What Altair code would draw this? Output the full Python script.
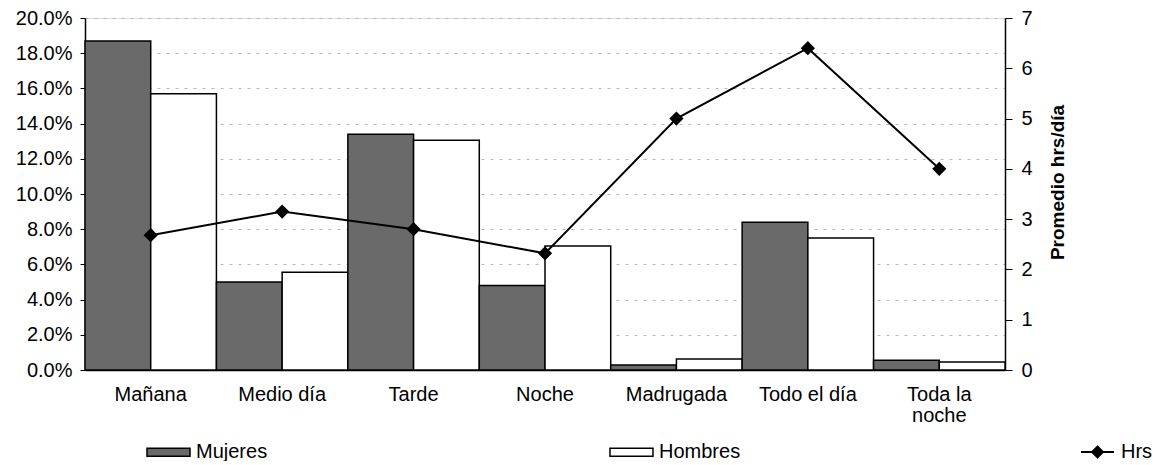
import altair as alt
import pandas as pd

periodos = ["Mañana", "Medio día", "Tarde", "Noche", "Madrugada", "Todo el día", "Toda la noche"]
mujeres = [18.7, 5.0, 13.4, 4.8, 0.28, 8.4, 0.55]
hombres = [15.7, 5.55, 13.05, 7.05, 0.62, 7.5, 0.45]
hrs = [2.68, 3.15, 2.8, 2.32, 5.0, 6.4, 4.0]
sexos = ["Mujeres", "Hombres"]
left_ticks = [0, 0.02, 0.04, 0.06, 0.08, 0.10, 0.12, 0.14, 0.16, 0.18, 0.20]
right_ticks = [0, 1, 2, 3, 4, 5, 6, 7]

rows = []
for p, m, h in zip(periodos, mujeres, hombres):
    rows.append({"Periodo": p, "Sexo": "Mujeres", "Valor": m / 100})
    rows.append({"Periodo": p, "Sexo": "Hombres", "Valor": h / 100})
bars_df = pd.DataFrame(rows)
line_df = pd.DataFrame({"Periodo": periodos, "Hrs": hrs, "Serie": ["Hrs"] * len(periodos)})

FONT = "Liberation Sans"

xenc = alt.X(
    "Periodo:N", sort=periodos, title=None,
    scale=alt.Scale(paddingInner=0, paddingOuter=0),
    axis=alt.Axis(
        labelAngle=0, ticks=False, tickSize=0, labelPadding=14, domain=True,
        domainColor="black", domainWidth=1.5, labelFontSize=20, labelColor="black",
        labelLineHeight=21, labelFont=FONT,
        labelExpr="datum.value == 'Toda la noche' ? ['Toda la', 'noche'] : datum.label",
    ),
)

bars = alt.Chart(bars_df).mark_bar(stroke="black", strokeWidth=1.5).encode(
    x=xenc,
    xOffset=alt.XOffset("Sexo:N", sort=sexos, scale=alt.Scale(paddingInner=0, paddingOuter=0)),
    y=alt.Y(
        "Valor:Q", title=None,
        scale=alt.Scale(domain=[0, 0.2], nice=False),
        axis=alt.Axis(
            format=".1%", values=left_ticks, orient="left", tickSize=5, tickColor="black",
            labelPadding=8, labelFontSize=20, labelColor="black", labelFont=FONT,
            domainColor="black", domainWidth=1.5,
            grid=True, gridColor="#b8b8b8", gridDash=[3, 6], gridWidth=1,
        ),
    ),
    fill=alt.Fill(
        "Sexo:N", sort=sexos,
        scale=alt.Scale(domain=sexos, range=["#6a6a6a", "white"]),
        legend=alt.Legend(
            title=None, orient="none", legendX=61, legendY=411.5, direction="horizontal",
            columns=2, columnPadding=339,
            symbolType="M-1,-0.19H1V0.19H-1Z", symbolSize=1849,
            symbolStrokeColor="black", symbolStrokeWidth=1.5,
            labelFontSize=20, labelFont=FONT, labelColor="black", labelOffset=5,
        ),
    ),
)

line = alt.Chart(line_df).mark_line(
    strokeWidth=2,
    point=alt.OverlayMarkDef(shape="diamond", size=130, filled=True, color="black"),
).encode(
    x=alt.X("Periodo:N", sort=periodos),
    y=alt.Y(
        "Hrs:Q", title="Promedio hrs/día",
        scale=alt.Scale(domain=[0, 7], nice=False),
        axis=alt.Axis(
            orient="right", values=right_ticks, tickSize=7, tickColor="black",
            labelPadding=9, labelFontSize=20, labelColor="black", labelFont=FONT,
            domainColor="black", domainWidth=1.5, grid=False,
            titleFont=FONT, titleFontSize=19, titleFontWeight="bold", titleColor="black",
            titleAngle=270, titleBaseline="top", titleAlign="center",
            titleX=43, titleY=164,
        ),
    ),
    stroke=alt.Stroke(
        "Serie:N",
        scale=alt.Scale(domain=["Hrs"], range=["black"]),
        legend=alt.Legend(
            title=None, orient="none", legendX=995, legendY=416.5,
            symbolType="M-1,0H1M0,-0.33L0.33,0L0,0.33L-0.33,0Z", symbolSize=1089,
            symbolFillColor="black", symbolStrokeColor="black", symbolStrokeWidth=2,
            labelFontSize=20, labelFont=FONT, labelColor="black", labelOffset=6,
        ),
    ),
)

chart = alt.layer(bars, line).resolve_scale(
    y="independent"
).resolve_legend(
    fill="independent", stroke="independent"
).properties(
    width=920, height=352,
    autosize=alt.AutoSizeParams(type="none"),
    padding={"left": 77, "top": 10, "right": 150, "bottom": 91},
).configure_view(
    stroke="black", strokeWidth=1.5
).configure(background="white")

chart.save("out.html", embed_options={"renderer": "svg", "actions": False})
